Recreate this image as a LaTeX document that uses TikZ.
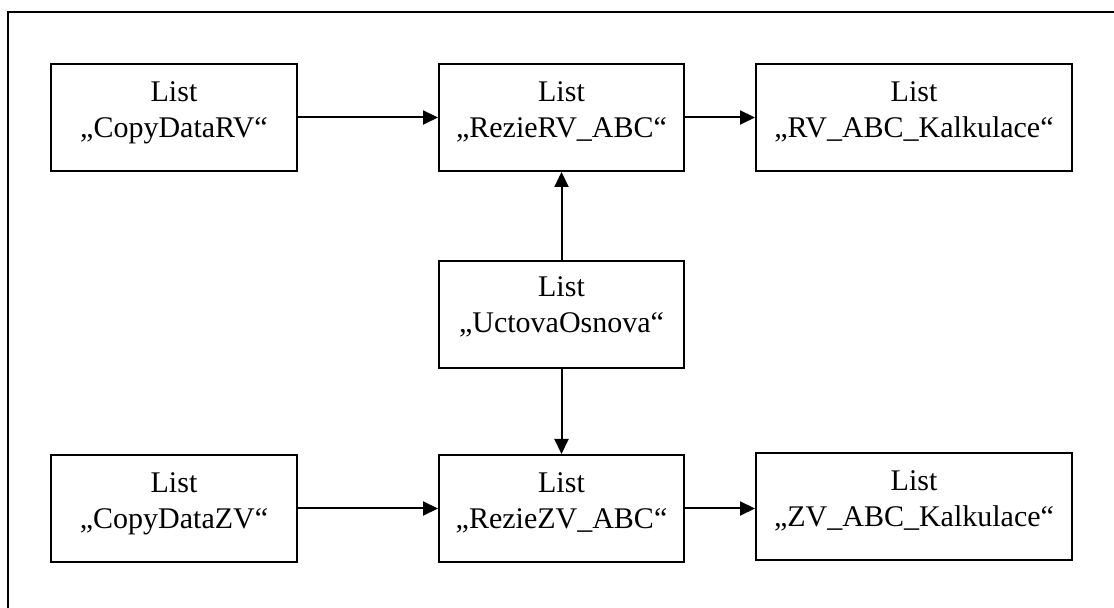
\documentclass[tikz,border=0pt]{standalone}
\usepackage{fontspec}
\setmainfont{Liberation Serif}
\usetikzlibrary{arrows.meta}
\begin{document}
\begin{tikzpicture}[x=0.5pt,y=-0.5pt,
  sheet/.style={draw,line width=1pt,inner sep=0pt,minimum height=53.5pt},
  caption/.style={anchor=north,inner sep=0pt,align=center,
    font=\fontsize{15pt}{18pt}\selectfont,yshift=-9.25pt},
  link/.style={line width=1pt,-{Triangle[length=7.5pt,width=7pt]}}]
\useasboundingbox (0,0) rectangle (1114,608);
\clip (0,0) rectangle (1114,608);
% surrounding frame
\draw[line width=1pt] (8,12) rectangle (1130,630);

% sheets
\node[sheet,minimum width=123pt] (crv) at (174,117.5) {};
\node[sheet,minimum width=122.5pt] (rrv) at (561.5,117.5) {};
\node[sheet,minimum width=158pt] (krv) at (914,117.5) {};
\node[sheet,minimum width=122.5pt] (uo) at (561.5,314.5) {};
\node[sheet,minimum width=123pt] (czv) at (174,508.5) {};
\node[sheet,minimum width=122.5pt] (rzv) at (561.5,508.5) {};
\node[sheet,minimum width=158pt] (kzv) at (914,506.5) {};

% sheet names
\node[caption] (tcrv) at (crv.north) {List\\„CopyDataRV“};
\node[caption] (trrv) at (rrv.north) {List\\„RezieRV\_ABC“};
\node[caption] (tkrv) at (krv.north) {List\\„RV\_ABC\_Kalkulace“};
\node[caption,yshift=1pt] (tuo) at (uo.north) {List\\„UctovaOsnova“};
\node[caption] (tczv) at (czv.north) {List\\„CopyDataZV“};
\node[caption] (trzv) at (rzv.north) {List\\„RezieZV\_ABC“};
\node[caption] (tkzv) at (kzv.north) {List\\„ZV\_ABC\_Kalkulace“};

% data flow
\draw[link] (crv.east) -- (rrv.west);
\draw[link] (rrv.east) -- (krv.west);
\draw[link] (uo.north) -- (rrv.south);
\draw[link] (uo.south) -- (rzv.north);
\draw[link] (czv.east) -- (rzv.west);
\draw[link] (rzv.east) -- (rzv.east -| kzv.west);
\end{tikzpicture}
\end{document}
